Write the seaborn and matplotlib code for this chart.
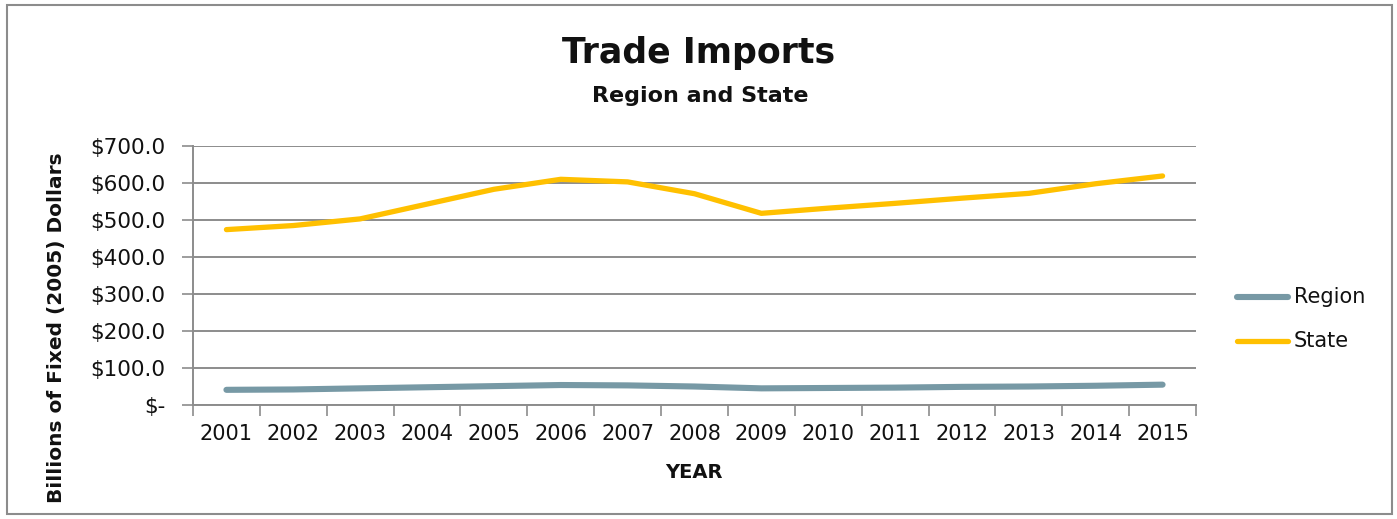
import matplotlib
matplotlib.use("Agg")
import matplotlib.pyplot as plt
import seaborn as sns
import pandas as pd
from matplotlib.patches import Rectangle
from matplotlib.ticker import FixedLocator, FuncFormatter

years = ["2001", "2002", "2003", "2004", "2005", "2006", "2007", "2008",
         "2009", "2010", "2011", "2012", "2013", "2014", "2015"]
region = [41, 42, 45, 48, 51, 54, 53, 50, 45, 46, 47, 49, 50, 52, 55]
state = [474, 485, 503, 543, 583, 610, 603, 571, 518, 532, 545, 559, 572, 598, 619]
series_names = ["Region", "State"]
series_colors = ["#7799a5", "#ffc000"]
series_widths = [4.4, 3.8]
y_ticks = [0, 100, 200, 300, 400, 500, 600, 700]

sns.set_theme(style="white")
plt.rcParams["font.family"] = ["DejaVu Sans"]
plt.rcParams["text.color"] = "#111111"

df = pd.DataFrame({
    "Year": years * 2,
    "Value": region + state,
    "Series": ["Region"] * len(years) + ["State"] * len(years),
})
df["pos"] = list(range(len(years))) * 2

fig = plt.figure(figsize=(13.97, 5.19), dpi=100)
ax = fig.add_axes([193 / 1397, 1 - 405 / 519, (1196 - 193) / 1397, (405 - 146) / 519])

sns.lineplot(data=df, x="pos", y="Value", hue="Series", hue_order=series_names,
             palette=series_colors, linewidth=3.8, ax=ax, legend=False,
             solid_capstyle="round")
for line, w in zip(ax.get_lines(), series_widths):
    line.set_linewidth(w)

ax.set_xlim(-0.5, len(years) - 0.5)
ax.set_ylim(0, 700)

# y axis
ax.yaxis.set_major_locator(FixedLocator(y_ticks))
ax.yaxis.set_major_formatter(FuncFormatter(
    lambda v, p: "$-" if v == 0 else f"${v:.1f}"))
ax.grid(axis="y", color="#8c8c8c", linewidth=1.4)
ax.grid(axis="x", visible=False)
ax.tick_params(axis="y", which="major", direction="out", length=8, width=1.2,
               color="#8c8c8c", labelsize=15.5, pad=12, left=True,
               labelcolor="#111111")

# x axis: labels at centers, tick marks at category boundaries
ax.set_xticks(range(len(years)))
ax.set_xticklabels(years)
ax.set_xticks([i - 0.5 for i in range(len(years) + 1)], minor=True)
ax.tick_params(axis="x", which="major", length=0, labelsize=15, pad=14,
               labelcolor="#111111")
ax.tick_params(axis="x", which="minor", direction="out", length=8, width=1.2,
               color="#8c8c8c", bottom=True)

for side in ["top", "right"]:
    ax.spines[side].set_visible(False)
for side in ["left", "bottom"]:
    ax.spines[side].set_color("#8c8c8c")
    ax.spines[side].set_linewidth(1.4)

ax.set_xlabel("")
ax.set_ylabel("")

fig.text(694 / 1397, 1 - 473 / 519, "YEAR", ha="center", va="center",
         fontsize=14, fontweight="bold")
fig.text(57 / 1397, 1 - 328 / 519, "Billions of Fixed (2005) Dollars",
         ha="center", va="center", rotation=90, fontsize=14.5, fontweight="bold")
fig.text(699 / 1397, 1 - 53 / 519, "Trade Imports", ha="center", va="center",
         fontsize=25, fontweight="bold")
fig.text(700 / 1397, 1 - 96 / 519, "Region and State", ha="center", va="center",
         fontsize=16, fontweight="bold")

# legend
legend_y = [297, 341]
for name, color, w, yy in zip(series_names, series_colors, series_widths, legend_y):
    fig.lines.append(plt.Line2D([1237 / 1397, 1288 / 1397], [1 - yy / 519] * 2,
                                color=color, linewidth=w,
                                solid_capstyle="round",
                                transform=fig.transFigure))
    fig.text(1294 / 1397, 1 - yy / 519, name, ha="left", va="center",
             fontsize=15)

# chart border
fig.patches.append(Rectangle((7 / 1397, 5 / 519), (1392 - 7) / 1397,
                             (514 - 5) / 519, transform=fig.transFigure,
                             fill=False, edgecolor="#8c8c8c", linewidth=1.5))

fig.savefig("out.png", dpi=100)
